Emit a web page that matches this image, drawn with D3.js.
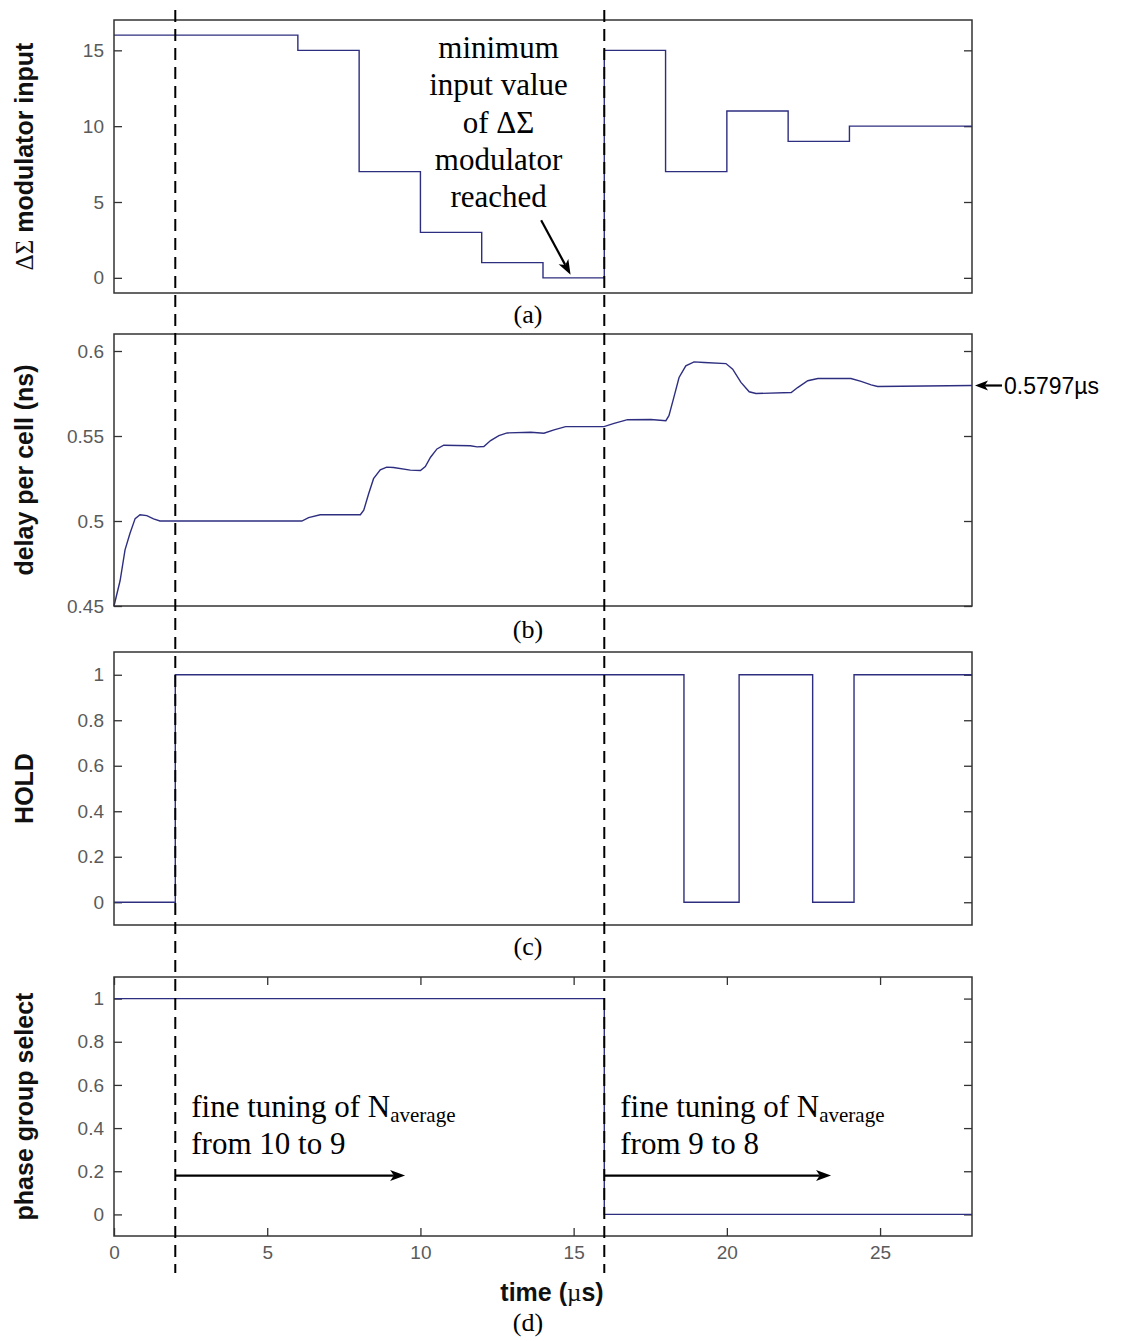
<!DOCTYPE html>
<html><head><meta charset="utf-8">
<script src="https://cdn.jsdelivr.net/npm/d3@7/dist/d3.min.js"></script>
<style>body{margin:0;background:#fff}svg{display:block}</style>
</head><body>
<script>
// ---------------- data ----------------
const timeTicks = [0, 5, 10, 15, 20, 25];
const markerTimes = [2, 16];

// (a) delta-sigma modulator input (stepwise)
const dsTime  = [0, 6, 8, 10, 12, 14, 16, 18, 20, 22, 24, 28];
const dsInput = [16, 15, 7, 3, 1, 0, 15, 7, 11, 9, 10, 10];
const dsTicks = [0, 5, 10, 15];

// (b) delay per cell (ns)
const delayTime  = [0, 0.2, 0.36, 0.52, 0.69, 0.85, 1.07, 1.29, 1.5, 6.13, 6.35, 6.73, 8.04, 8.15, 8.31, 8.47, 8.69, 8.9, 9.12, 9.67, 10.0, 10.16, 10.33, 10.54, 10.76, 11.63, 11.85, 12.07, 12.29, 12.56, 12.83, 13.6, 14.03, 14.36, 14.74, 15.99, 16.32, 16.76, 17.52, 18.01, 18.11, 18.27, 18.44, 18.66, 18.93, 19.26, 19.97, 20.19, 20.46, 20.73, 20.95, 22.1, 22.31, 22.64, 22.97, 24.05, 24.38, 24.71, 24.92, 28];
const delayValue = [0.45, 0.465, 0.483, 0.4926, 0.5014, 0.5037, 0.5032, 0.5012, 0.5, 0.5, 0.502, 0.5037, 0.5037, 0.5063, 0.516, 0.5249, 0.5301, 0.5317, 0.5315, 0.5299, 0.5297, 0.532, 0.5375, 0.5424, 0.5446, 0.5443, 0.5436, 0.5438, 0.5473, 0.5502, 0.5518, 0.5522, 0.5516, 0.5536, 0.5555, 0.5555, 0.5574, 0.5596, 0.5597, 0.559, 0.562, 0.5727, 0.5844, 0.5913, 0.5936, 0.5932, 0.5926, 0.5893, 0.5815, 0.576, 0.575, 0.5756, 0.5785, 0.5825, 0.5838, 0.5838, 0.5821, 0.5801, 0.5791, 0.5797];
const delayTicks = [0.45, 0.5, 0.55, 0.6];
const finalDelayLabel = "0.5797µs";
const finalDelay = 0.5797;

// (c) HOLD
const holdTime  = [0, 2, 18.6, 20.4, 22.8, 24.15, 28];
const holdValue = [0, 1, 0, 1, 0, 1, 1];

// (d) phase group select
const phaseTime  = [0, 16, 28];
const phaseValue = [1, 0, 0];

const unitTicks = [0, 0.2, 0.4, 0.6, 0.8, 1];

// ---------------- layout ----------------
const W = 1122, H = 1341;
const LINE = "#2e2e80";
const svg = d3.select("body").append("svg").attr("width", W).attr("height", H)
  .style("background", "#fff");

const x = d3.scaleLinear().domain([0, 28]).range([114, 972]);

const SANS = "'Liberation Sans', Arial, sans-serif";
const SERIF = "'Liberation Serif', 'Times New Roman', serif";

function fmt(d) { return String(+d.toFixed(2)); }

function panel(top, bottom, domain, ticks, label, tag, tagY, times, values, curve, showX) {
  const y = d3.scaleLinear().domain(domain).range([bottom, top]);
  const g = svg.append("g");

  const ax = g.append("g").attr("transform", `translate(${x.range()[0]},0)`)
    .call(d3.axisLeft(y).tickValues(ticks).tickFormat(fmt).tickSizeInner(-8).tickSizeOuter(0).tickPadding(10));
  ax.select(".domain").remove();
  ax.selectAll("line").attr("stroke", "#333").attr("stroke-width", 1.3);
  ax.selectAll("text").attr("font-family", SANS).attr("font-size", 19).attr("fill", "#5a5a5a");

  const axr = g.append("g").attr("transform", `translate(${x.range()[1]},0)`)
    .call(d3.axisRight(y).tickValues(ticks).tickFormat("").tickSizeInner(-8).tickSizeOuter(0));
  axr.select(".domain").remove();
  axr.selectAll("line").attr("stroke", "#333").attr("stroke-width", 1.3);

  if (showX) {
    const axb = g.append("g").attr("transform", `translate(0,${bottom})`)
      .call(d3.axisBottom(x).tickValues(timeTicks).tickFormat(d => d).tickSizeInner(-8).tickSizeOuter(0).tickPadding(10));
    axb.select(".domain").remove();
    axb.selectAll("line").attr("stroke", "#333").attr("stroke-width", 1.3);
    axb.selectAll("text").attr("font-family", SANS).attr("font-size", 19).attr("fill", "#5a5a5a");
    const axt = g.append("g").attr("transform", `translate(0,${top})`)
      .call(d3.axisTop(x).tickValues(timeTicks).tickFormat("").tickSizeInner(-8).tickSizeOuter(0));
    axt.select(".domain").remove();
    axt.selectAll("line").attr("stroke", "#333").attr("stroke-width", 1.3);
  }

  const data = times.map((t, i) => [t, values[i]]);
  g.append("path").datum(data)
    .attr("fill", "none").attr("stroke", LINE).attr("stroke-width", 1.4)
    .attr("d", d3.line().x(d => x(d[0])).y(d => y(d[1])).curve(curve));

  g.append("rect").attr("x", x.range()[0]).attr("y", top)
    .attr("width", x.range()[1] - x.range()[0]).attr("height", bottom - top)
    .attr("fill", "none").attr("stroke", "#333").attr("stroke-width", 1.5);

  const cy = (top + bottom) / 2;
  const t = g.append("text").attr("transform", `translate(33,${cy}) rotate(-90)`)
    .attr("text-anchor", "middle").attr("font-family", SANS).attr("font-weight", "bold")
    .attr("font-size", 25).attr("fill", "#111");
  label.forEach(p => {
    const s = t.append("tspan").text(p.t);
    if (p.serif) s.attr("font-family", SERIF).attr("font-weight", "normal");
  });

  g.append("text").attr("x", 528).attr("y", tagY).attr("text-anchor", "middle")
    .attr("font-family", SERIF).attr("font-size", 26).attr("fill", "#000").text(tag);
  return y;
}

function arrow(x1, y1, x2, y2, len = 15, half = 5.5) {
  const dx = x2 - x1, dy = y2 - y1, L = Math.hypot(dx, dy);
  const ux = dx / L, uy = dy / L, nx = -uy, ny = ux;
  const bx = x2 - ux * len, by = y2 - uy * len;
  const mx = x2 - ux * len * 0.75, my = y2 - uy * len * 0.75;
  svg.append("line").attr("x1", x1).attr("y1", y1).attr("x2", mx).attr("y2", my)
    .attr("stroke", "#000").attr("stroke-width", 2.2);
  svg.append("path")
    .attr("d", `M${x2},${y2} L${bx + nx * half},${by + ny * half} L${mx},${my} L${bx - nx * half},${by - ny * half} Z`)
    .attr("fill", "#000");
}

const yA = panel(20, 293, [-1, 17], dsTicks,
  [{t: "ΔΣ", serif: true}, {t: " modulator input"}], "(a)", 323, dsTime, dsInput, d3.curveStepAfter, false);
const yB = panel(334, 606, [0.45, 0.61], delayTicks,
  [{t: "delay per cell (ns)"}], "(b)", 638, delayTime, delayValue, d3.curveLinear, false);
const yC = panel(652, 925, [-0.1, 1.1], unitTicks,
  [{t: "HOLD"}], "(c)", 955, holdTime, holdValue, d3.curveStepAfter, false);
const yD = panel(977, 1236, [-0.1, 1.1], unitTicks,
  [{t: "phase group select"}], "(d)", 1331, phaseTime, phaseValue, d3.curveStepAfter, true);

// x label of bottom panel
const tl = svg.append("text").attr("x", 552).attr("y", 1301).attr("text-anchor", "middle")
  .attr("font-family", SANS).attr("font-weight", "bold").attr("font-size", 25).attr("fill", "#111");
tl.append("tspan").text("time (");
tl.append("tspan").attr("font-family", SERIF).attr("font-weight", "normal").text("µ");
tl.append("tspan").text("s)");

// (a) annotation
const annLines = ["minimum", "input value", "of ΔΣ", "modulator", "reached"];
annLines.forEach((s, i) => {
  svg.append("text").attr("x", x(12.55)).attr("y", 58 + i * 37.3).attr("text-anchor", "middle")
    .attr("font-family", SERIF).attr("font-size", 31).attr("fill", "#000").text(s);
});
arrow(x(13.94), yA(3.8), x(14.9), yA(0.2));

// (b) final value annotation
arrow(x(28) + 30, yB(finalDelay), x(28) + 3, yB(finalDelay), 13, 5);
svg.append("text").attr("x", x(28) + 32).attr("y", yB(finalDelay) + 8)
  .attr("font-family", SANS).attr("font-size", 23).attr("fill", "#000").text(finalDelayLabel);

// (d) annotations
function fineText(x0, yb, from) {
  const t1 = svg.append("text").attr("x", x0).attr("y", yb)
    .attr("font-family", SERIF).attr("font-size", 31).attr("fill", "#000");
  t1.append("tspan").text("fine tuning of N");
  t1.append("tspan").attr("font-size", 21).attr("dy", 5).text("average");
  svg.append("text").attr("x", x0).attr("y", yb + 37)
    .attr("font-family", SERIF).attr("font-size", 31).attr("fill", "#000").text(from);
}
fineText(x(2) + 16, 1117, "from 10 to 9");
fineText(x(16) + 16, 1117, "from 9 to 8");
arrow(x(2), yD(0.18), x(9.5), yD(0.18));
arrow(x(16), yD(0.18), x(23.4), yD(0.18));

// dashed markers
markerTimes.forEach(t => {
  svg.append("line").attr("x1", x(t)).attr("x2", x(t)).attr("y1", 10).attr("y2", 1273)
    .attr("stroke", "#000").attr("stroke-width", 2).attr("stroke-dasharray", "12,7");
});
</script>
</body></html>
